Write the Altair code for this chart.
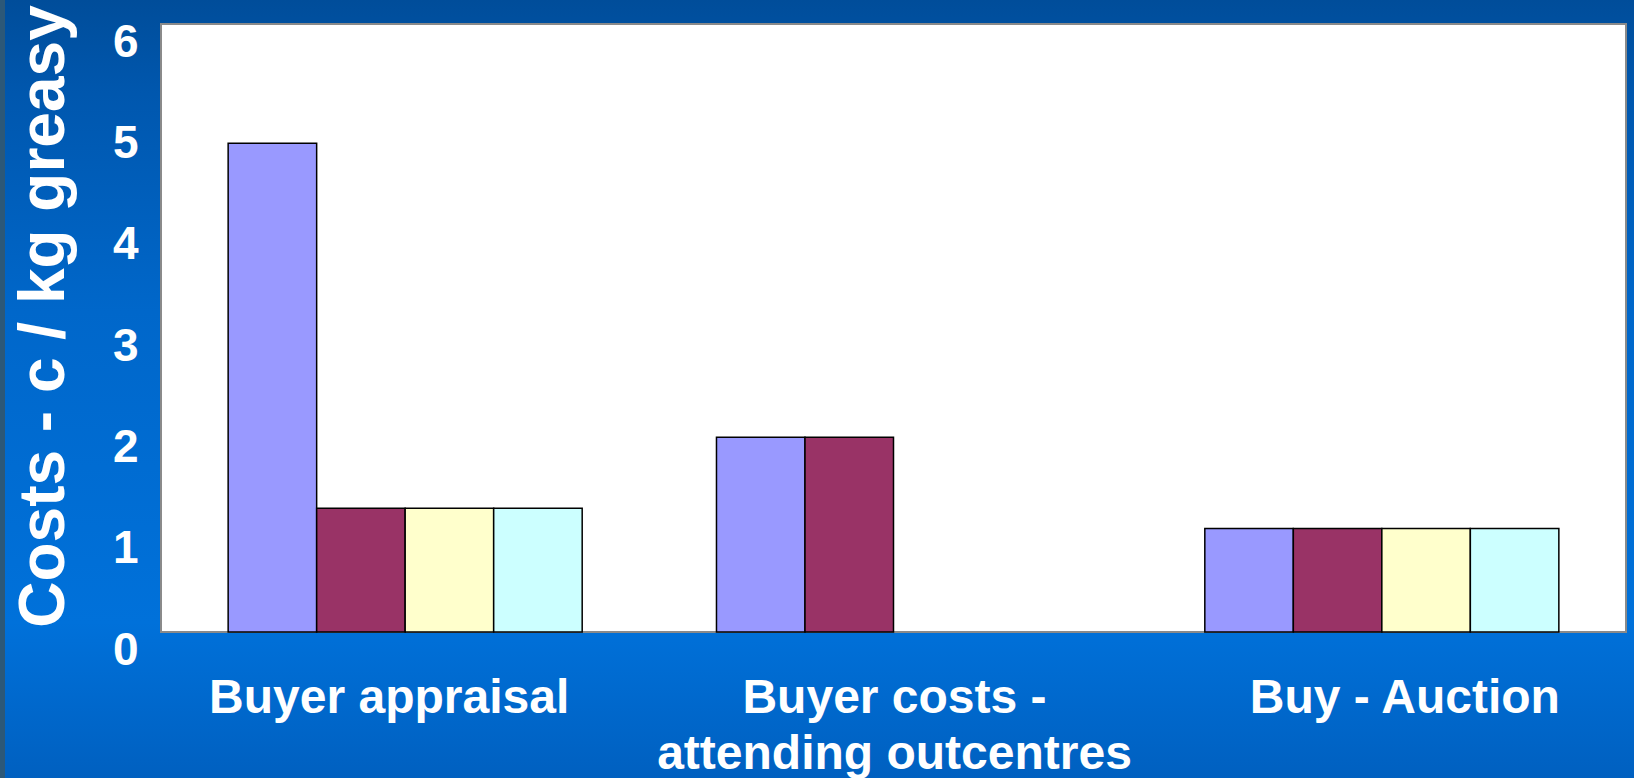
import altair as alt
import pandas as pd

categories = ["Buyer appraisal", "Buyer costs -|attending outcentres", "Buy - Auction"]
series = ["Series 1", "Series 2", "Series 3", "Series 4"]
colors = ["#9999FF", "#993366", "#FFFFCC", "#CCFFFF"]
buyer_appraisal = [5.0, 1.4, 1.4, 1.4]
buyer_costs = [2.1, 2.1, None, None]
buy_auction = [1.2, 1.2, 1.2, 1.2]
y_ticks = [0, 1, 2, 3, 4, 5, 6]

rows = []
for cat, vals in zip(categories, [buyer_appraisal, buyer_costs, buy_auction]):
    for s, v in zip(series, vals):
        if v is not None:
            rows.append({"category": cat, "series": s, "value": v})
df = pd.DataFrame(rows)

W, H = 1465, 608
PL, PT, PR, PB = 161, 24, 8, 146
FONT = "Liberation Sans"

one = alt.Data(values=[{"k": 1}])

bg = alt.Chart(one).mark_rect(
    fill=alt.Gradient(
        gradient="linear",
        stops=[
            alt.GradientStop(color="#004d9a", offset=0),
            alt.GradientStop(color="#0057ae", offset=0.12),
            alt.GradientStop(color="#0067ca", offset=0.4),
            alt.GradientStop(color="#0071da", offset=0.8),
            alt.GradientStop(color="#0060c0", offset=1),
        ],
        x1=0, x2=0, y1=0, y2=1,
    )
).encode(
    x=alt.value(-PL), x2=alt.value(W + PR), y=alt.value(-PT), y2=alt.value(H + PB)
)

strip = alt.Chart(one).mark_rect(color="#2c5878").encode(
    x=alt.value(-PL), x2=alt.value(-PL + 5), y=alt.value(-PT), y2=alt.value(H + PB)
)

plot_bg = alt.Chart(one).mark_rect(fill="white", stroke="#8a8a8a", strokeWidth=2).encode(
    x=alt.value(0), x2=alt.value(W), y=alt.value(0), y2=alt.value(H)
)

bars = alt.Chart(df).mark_bar(stroke="black", strokeWidth=1.5).encode(
    x=alt.X(
        "category:N",
        sort=categories,
        scale=alt.Scale(paddingInner=0.275, paddingOuter=0.1375),
        axis=alt.Axis(
            title=None,
            labelAngle=0,
            labelExpr="split(datum.label, '|')",
            labelFont=FONT,
            labelFontSize=48,
            labelFontWeight="bold",
            labelColor="white",
            labelLineHeight=56,
            labelPadding=80,
            labelLimit=0,
            labelBaseline="alphabetic",
            labelOffset={
                "condition": [
                    {"test": "datum.value == 'Buyer appraisal'", "value": -16},
                    {"test": "datum.value == 'Buy - Auction'", "value": 23},
                ],
                "value": 1,
            },
            ticks=False,
            domain=False,
            grid=False,
            zindex=1,
        ),
    ),
    xOffset=alt.XOffset("series:N", sort=series, scale=alt.Scale(paddingInner=0, paddingOuter=0)),
    y=alt.Y(
        "value:Q",
        stack=None,
        scale=alt.Scale(domain=[0, 6], range=[626, 18]),
        axis=alt.Axis(
            values=y_ticks,
            title="Costs - c / kg greasy",
            titleFont=FONT,
            titleFontSize=64,
            titleFontWeight="bold",
            titleColor="white",
            titleAngle=270,
            titleAlign="center",
            titleBaseline="alphabetic",
            titleX=-98,
            titleY=292,
            labelFont=FONT,
            labelFontSize=46,
            labelFontWeight="bold",
            labelColor="white",
            labelPadding=23,
            ticks=False,
            domain=False,
            grid=False,
            zindex=1,
        ),
    ),
    y2=alt.value(H),
    color=alt.Color("series:N", sort=series, scale=alt.Scale(domain=series, range=colors), legend=None),
)

chart = alt.layer(bg, strip, plot_bg, bars).properties(
    width=W,
    height=H,
    padding={"left": PL, "top": PT, "right": PR, "bottom": PB},
    autosize=alt.AutoSizeParams(type="none"),
    background="#0064c4",
).configure_view(stroke=None)

chart.save("out.html", embed_options={"renderer": "svg", "actions": False})
